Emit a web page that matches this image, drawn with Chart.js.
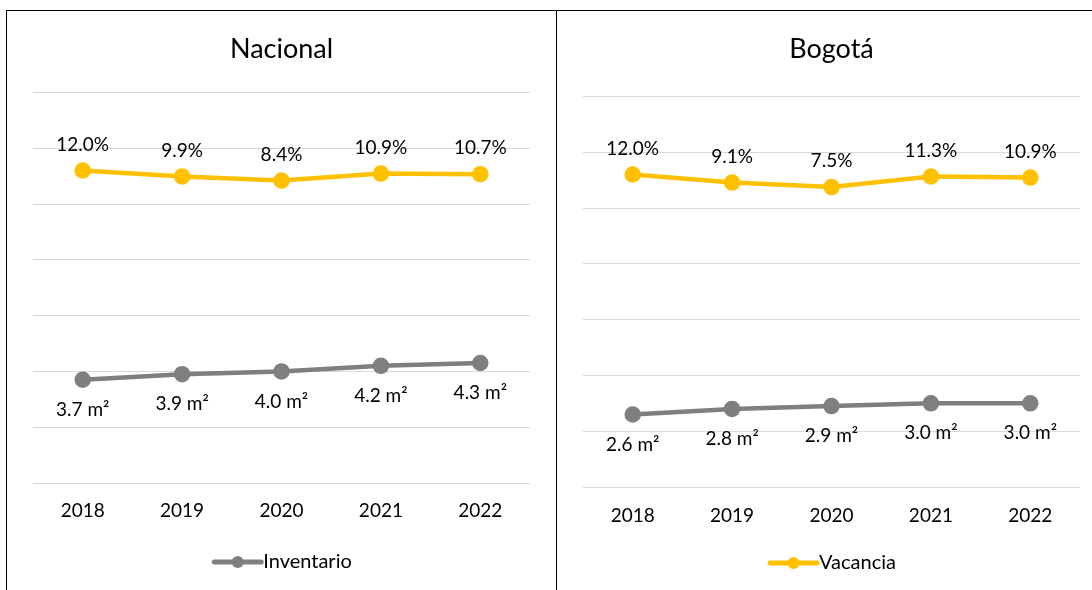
<!DOCTYPE html>
<html>
<head>
<meta charset="utf-8">
<script src="https://cdn.jsdelivr.net/npm/chart.js@4.4.1/dist/chart.umd.min.js"></script>
<style>
  body { margin: 0; background: #fff; width: 1092px; height: 590px; overflow: hidden; position: relative; }
  canvas { position: absolute; top: 11px; }
  .rule { position: absolute; background: #000; }
</style>
</head>
<body>
<div class="rule" style="left:6px;top:10px;width:1100px;height:1px"></div>
<div class="rule" style="left:6px;top:10px;width:1px;height:600px"></div>
<div class="rule" style="left:556px;top:10px;width:1px;height:600px"></div>
<canvas id="chartNacional" width="549" height="579" style="left:7px"></canvas>
<canvas id="chartBogota" width="549" height="579" style="left:557px"></canvas>
<script>
const years = ['2018', '2019', '2020', '2021', '2022'];

// Vacancia (%)
const vacNacional = [12.0, 9.9, 8.4, 10.9, 10.7];
const vacBogota = [12.0, 9.1, 7.5, 11.3, 10.9];

// Inventario (millones de m²)
const invNacional = [3.7, 3.9, 4.0, 4.2, 4.3];
const invBogota = [2.6, 2.8, 2.9, 3.0, 3.0];

const YELLOW = '#FFC000';
const GRAY = '#7F7F7F';
const FONT = 'Lato';

Chart.defaults.font.family = FONT;
Chart.defaults.color = '#000';

// legend sample: line with a dot, like the excel one
// (chart.js centres the image at x+21, text starts at x+52)
function legendMark(color) {
    const c = document.createElement('canvas');
    c.width = 66;
    c.height = 14;
    const g = c.getContext('2d');
    g.strokeStyle = color;
    g.lineWidth = 5;
    g.lineCap = 'round';
    g.beginPath();
    g.moveTo(15, 7);
    g.lineTo(62, 7);
    g.stroke();
    g.fillStyle = color;
    g.beginPath();
    g.arc(38.5, 7, 6, 0, Math.PI * 2);
    g.fill();
    return c;
}

const valueLabels = {
    id: 'valueLabels',
    afterDatasetsDraw(chart) {
        const ctx = chart.ctx;
        ctx.save();
        ctx.font = '19px ' + FONT;
        ctx.fillStyle = '#000';
        ctx.textAlign = 'center';
        ctx.textBaseline = 'middle';
        chart.data.datasets.forEach((ds, i) => {
            const meta = chart.getDatasetMeta(i);
            meta.data.forEach((pt, j) => {
                ctx.fillText(ds.fmt(ds.data[j]), pt.x, pt.y + ds.labelOffset);
            });
        });
        ctx.restore();
    }
};

function makeChart(id, title, vac, inv, legendName, layoutOpts) {
    const legendColor = legendName === 'Vacancia' ? YELLOW : GRAY;
    return new Chart(document.getElementById(id), {
        type: 'line',
        data: {
            labels: years,
            datasets: [
                {
                    label: 'Vacancia',
                    data: vac,
                    yAxisID: 'y1',
                    borderColor: YELLOW,
                    backgroundColor: YELLOW,
                    borderWidth: 4.5,
                    pointRadius: 6,
                    pointHoverRadius: 6,
                    tension: 0,
                    fmt: v => v.toFixed(1) + '%',
                    labelOffset: -26
                },
                {
                    label: 'Inventario',
                    data: inv,
                    yAxisID: 'y',
                    borderColor: GRAY,
                    backgroundColor: GRAY,
                    borderWidth: 4.5,
                    pointRadius: 6,
                    pointHoverRadius: 6,
                    tension: 0,
                    fmt: v => v.toFixed(1) + ' m²',
                    labelOffset: 30
                }
            ]
        },
        options: {
            responsive: false,
            animation: false,
            layout: {
                padding: { left: 26, right: 26, top: 0, bottom: layoutOpts.bottom }
            },
            scales: {
                x: {
                    offset: true,
                    grid: { display: false },
                    border: { display: false },
                    ticks: {
                        font: { size: 19 },
                        color: '#000',
                        padding: layoutOpts.tickPad
                    },
                    afterFit: s => { s.height = layoutOpts.axisHeight; }
                },
                y: {
                    position: 'left',
                    min: 0,
                    max: 14,
                    ticks: { stepSize: 2, display: false },
                    grid: { color: '#D9D9D9', lineWidth: 1, drawTicks: false },
                    border: { display: false }
                },
                y1: {
                    display: false,
                    min: -100,
                    max: 40
                }
            },
            plugins: {
                title: {
                    display: true,
                    text: title,
                    color: '#000',
                    font: { size: 27, weight: 'normal' },
                    padding: { top: layoutOpts.titleTop, bottom: layoutOpts.titleBottom }
                },
                legend: {
                    position: 'bottom',
                    labels: {
                        filter: item => item.text === legendName,
                        usePointStyle: true,
                        pointStyle: legendMark(legendColor),
                        pointStyleWidth: 42,
                        font: { size: 20 },
                        color: '#000',
                        padding: 10
                    }
                },
                tooltip: { enabled: false }
            }
        },
        plugins: [valueLabels]
    });
}

makeChart('chartNacional', 'Nacional', vacNacional, invNacional, 'Inventario',
    { titleTop: 22, titleBottom: 27, tickPad: 8, axisHeight: 59, bottom: 8 });
makeChart('chartBogota', 'Bogotá', vacBogota, invBogota, 'Vacancia',
    { titleTop: 22, titleBottom: 31, tickPad: 9, axisHeight: 56, bottom: 7 });
</script>
</body>
</html>
